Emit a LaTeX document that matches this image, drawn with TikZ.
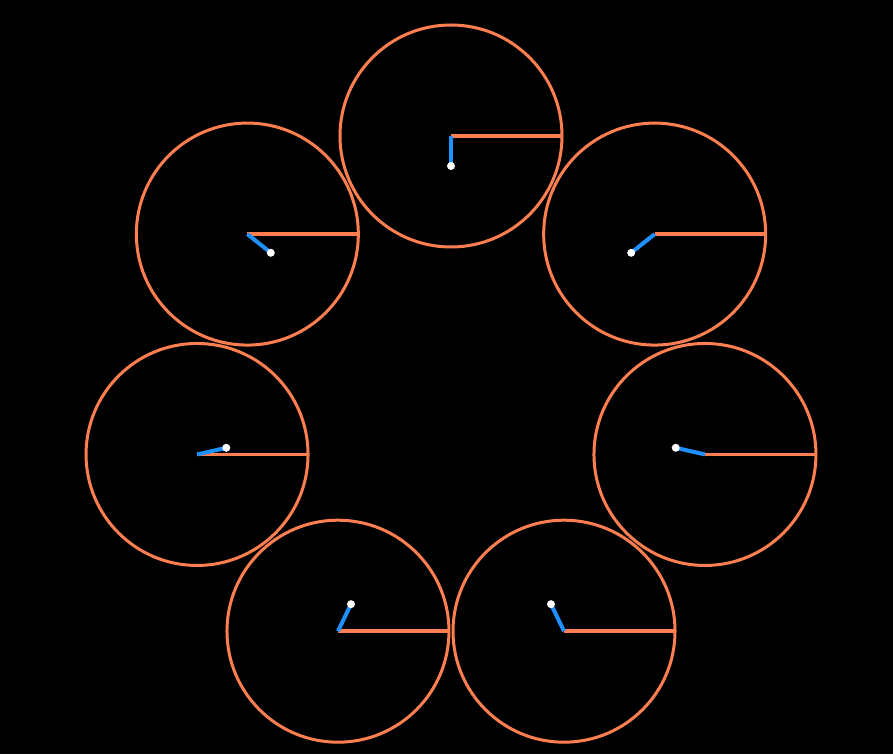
\documentclass[tikz,border=0pt]{standalone}
\usepackage{tikz}
\usetikzlibrary{calc,positioning}
\definecolor{bg}{HTML}{000000}
\definecolor{rim}{HTML}{FF7F50}
\definecolor{arm}{HTML}{1E90FF}

\begin{document}
\begin{tikzpicture}[x=1pt,y=1pt,
    wheel/.style={circle, draw=rim, line width=3pt, minimum size=222pt,
                  inner sep=0pt, outer sep=0pt},
    spoke/.style={draw=rim, line width=3.5pt},
    crank/.style={draw=arm, line width=4pt},
    pin/.style={circle, fill=white, minimum size=8pt, inner sep=0pt},
]

\fill[bg] (-451,-357.5) rectangle (442,396.5);
\useasboundingbox (-451,-357.5) rectangle (442,396.5);
\coordinate (mid) at (0,0);

\foreach \k in {0,...,6}{
  \node[wheel] (w\k) at ({90-\k*360/7}:260.5) {};
  \coordinate (tip\k) at ($(w\k.center)!30pt!(mid)$);
  \draw[spoke] (w\k.center) -- (w\k.east);
  \draw[crank] (w\k.center) -- (tip\k);
  \node[pin] (p\k) at (tip\k) {};
}

\end{tikzpicture}
\end{document}
